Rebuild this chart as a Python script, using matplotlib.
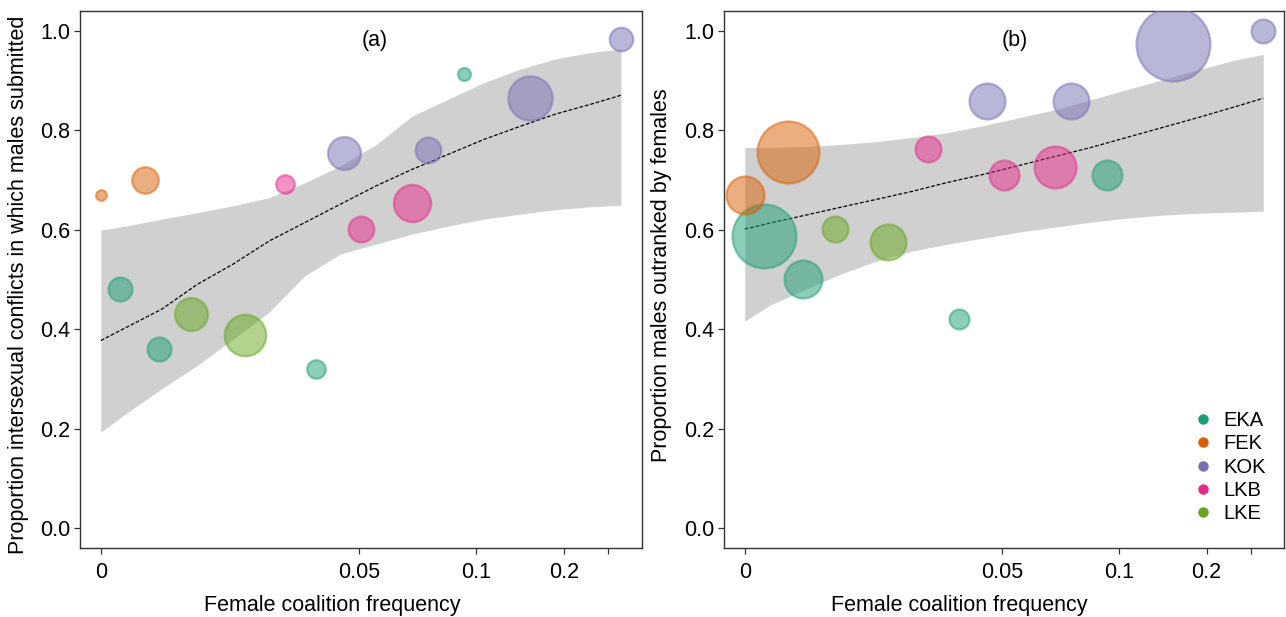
import numpy as np
import matplotlib
matplotlib.use("Agg")
import matplotlib.pyplot as plt
from matplotlib.lines import Line2D

plt.rcParams['font.family'] = ['Liberation Sans', 'DejaVu Sans']

# ---------------- data ----------------
sites = ['EKA', 'FEK', 'KOK', 'LKB', 'LKE']
site_colors = ['#1B9E77', '#D95F02', '#7570B3', '#E7298A', '#66A61E']

point_site = ['FEK', 'FEK', 'EKA', 'EKA', 'LKE', 'LKE', 'LKB', 'EKA',
              'KOK', 'LKB', 'LKB', 'KOK', 'EKA', 'KOK', 'KOK']
coal_freq = [0.0, 0.0085, 0.0038, 0.0113, 0.0175, 0.0279, 0.0356, 0.0417,
             0.0471, 0.0510, 0.0728, 0.0797, 0.0948, 0.1614, 0.340]

# panel (a)
prop_submit = [0.669, 0.699, 0.480, 0.360, 0.430, 0.389, 0.691, 0.320,
               0.753, 0.601, 0.654, 0.759, 0.912, 0.865, 0.984]
weight_a = [5.4, 13.3, 12.0, 12.0, 16.5, 20.8, 9.3, 9.3,
            16.5, 12.9, 18.6, 12.9, 6.5, 22.2, 11.8]

# panel (b)
prop_outranked = [0.669, 0.755, 0.587, 0.500, 0.601, 0.575, 0.763, 0.420,
                  0.858, 0.710, 0.726, 0.858, 0.710, 0.973, 1.000]
weight_b = [19, 31, 32, 19, 13, 18, 13, 10, 18, 15, 21, 18, 15, 37, 12]

# fitted curves with confidence bands
fit_x = [0.0, 0.00485, 0.0118, 0.0187, 0.0257, 0.0326, 0.0395, 0.0464,
         0.0574, 0.0727, 0.0880, 0.1086, 0.1492, 0.1898, 0.2605, 0.340]
fit_a = [0.377, 0.403, 0.440, 0.490, 0.531, 0.577, 0.614, 0.651,
         0.688, 0.721, 0.751, 0.781, 0.807, 0.832, 0.852, 0.870]
upper_a = [0.599, 0.607, 0.621, 0.634, 0.648, 0.664, 0.694, 0.728,
           0.771, 0.828, 0.862, 0.895, 0.922, 0.943, 0.956, 0.963]
lower_a = [0.193, 0.230, 0.280, 0.327, 0.380, 0.434, 0.507, 0.551,
           0.571, 0.591, 0.607, 0.621, 0.631, 0.640, 0.646, 0.649]
fit_b = [0.601, 0.613, 0.629, 0.645, 0.661, 0.677, 0.695, 0.711,
         0.729, 0.747, 0.765, 0.785, 0.805, 0.825, 0.846, 0.864]
upper_b = [0.765, 0.765, 0.767, 0.771, 0.777, 0.785, 0.795, 0.809,
           0.825, 0.841, 0.861, 0.881, 0.901, 0.921, 0.940, 0.952]
lower_b = [0.416, 0.448, 0.480, 0.511, 0.537, 0.557, 0.571, 0.583,
           0.595, 0.605, 0.615, 0.623, 0.629, 0.633, 0.635, 0.637]

x_ticks = [0, 0.05, 0.1, 0.2, 0.3]
x_ticklabels = ['0', '0.05', '0.1', '0.2', '']
y_ticks = [0.0, 0.2, 0.4, 0.6, 0.8, 1.0]

# ---------------- custom x scale (compressive axis) ----------------
_anchor_v = np.array([-0.05, 0.0, 0.05, 0.1, 0.2, 0.3, 0.5])
_anchor_p = np.array([-258.6, 0.0, 258.6, 376.0, 464.3, 508.6, 571.4])


def fwd(x):
    return np.interp(x, _anchor_v, _anchor_p)


def inv(p):
    return np.interp(p, _anchor_p, _anchor_v)


color_of = dict(zip(sites, site_colors))

FS = 15.5

fig = plt.figure(figsize=(12.86, 6.17), dpi=100)
W, H = 1286.0, 617.0
ax_a = fig.add_axes([80 / W, (H - 548) / H, 561.7 / W, 537.3 / H])
ax_b = fig.add_axes([724 / W, (H - 548) / H, 560 / W, 537.3 / H])


def draw(ax, yvals, weights, fit, lo, hi, tag, tagx):
    ax.set_xscale('function', functions=(fwd, inv))
    ax.fill_between(fit_x, lo, hi, color='#D0D0D0', linewidth=0, zorder=1)
    ax.plot(fit_x, fit, color='black', linestyle=(0, (3, 1.5)), linewidth=0.9, zorder=2)
    cols = [color_of[s] for s in point_site]
    sizes = [(1.44 * r) ** 2 for r in weights]
    order = np.argsort(weights)[::-1]
    for i in order:
        ax.scatter([coal_freq[i]], [yvals[i]], s=sizes[i], facecolor=cols[i],
                   edgecolor=cols[i], alpha=0.5, linewidth=1.6, zorder=3)
    lo_p, hi_p = fwd(min(coal_freq)), fwd(max(coal_freq))
    pad = 0.04 * (hi_p - lo_p)
    ax.set_xlim(inv(lo_p - pad), inv(hi_p + pad))
    ax.set_ylim(-0.04, 1.04)
    ax.set_xticks(x_ticks)
    ax.set_xticklabels(x_ticklabels)
    ax.set_yticks(y_ticks)
    ax.set_yticklabels([f'{v:.1f}' for v in y_ticks])
    ax.tick_params(axis='both', labelsize=FS, length=4, width=0.9, color='#333333')
    ax.tick_params(axis='x', pad=6)
    ax.tick_params(axis='y', pad=3)
    ax.minorticks_off()
    for sp in ax.spines.values():
        sp.set_linewidth(1.0)
        sp.set_color('#333333')
    ax.text(tagx, 0.945, tag, transform=ax.transAxes, ha='center', va='center',
            fontsize=FS)


draw(ax_a, prop_submit, weight_a, fit_a, lower_a, upper_a, '(a)', 0.525)
draw(ax_b, prop_outranked, weight_b, fit_b, lower_b, upper_b, '(b)', 0.52)

fig.text(332.5 / W, 1 - 605 / H, 'Female coalition frequency', ha='center', va='center', fontsize=FS)
fig.text(959 / W, 1 - 605 / H, 'Female coalition frequency', ha='center', va='center', fontsize=FS)
fig.text(19 / W, 1 - 285 / H, 'Proportion intersexual conflicts in which males submitted',
         rotation=90, ha='center', va='center', fontsize=FS)
fig.text(662 / W, 1 - 275 / H, 'Proportion males outranked by females',
         rotation=90, ha='center', va='center', fontsize=FS)

handles = [Line2D([0], [0], marker='o', linestyle='none', markersize=6.5,
                  markerfacecolor=c, markeredgecolor=c) for c in site_colors]
ax_b.legend(handles, sites, loc='lower right', bbox_to_anchor=(1.0, 0.012),
            frameon=False, fontsize=14.5, handletextpad=0.5, labelspacing=0.22,
            borderaxespad=0.5, handlelength=1.0)

fig.savefig('out.png', dpi=100)
